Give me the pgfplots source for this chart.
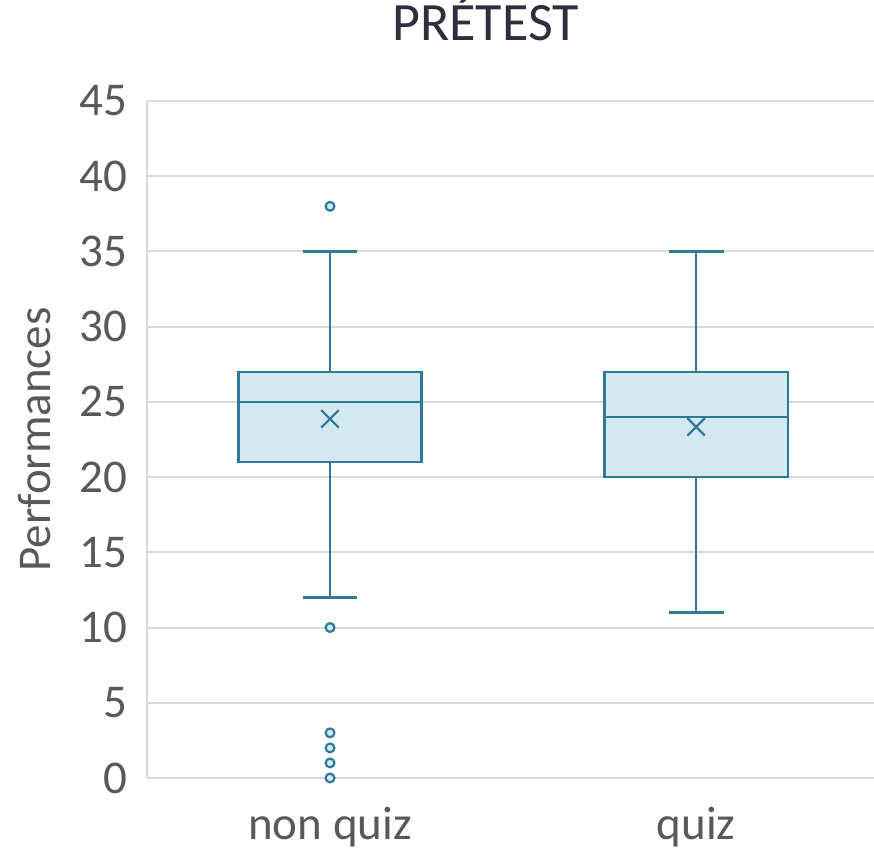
\documentclass[border=0pt]{standalone}
\usepackage{pgfplots}
\pgfplotsset{compat=1.18}
\usepgfplotslibrary{statistics}
\usepackage{fontspec}
\setmainfont{Carlito}
\definecolor{boxline}{HTML}{2F7A96}
\definecolor{boxfill}{HTML}{D3E8F1}
\definecolor{gridgray}{HTML}{D9D9D9}
\definecolor{ticktext}{HTML}{595959}
\definecolor{titletext}{HTML}{2E2E3E}
\begin{document}
\begin{tikzpicture}
\begin{axis}[
  name=ax,
  scale only axis,
  width=363.5pt, height=338.5pt,
  xmin=0.5, xmax=2.486,
  ymin=0, ymax=45,
  ytick={0,5,...,45},
  xtick={1,2},
  xticklabels={non quiz, quiz},
  ymajorgrids,
  grid style={gridgray, line width=1pt},
  axis lines*=left,
  axis line style={gridgray, line width=1pt, -},
  major tick length=0pt,
  /pgf/number format/assume math mode=true,
  tick label style={font=\fontsize{23.5}{28}\selectfont, text=ticktext},
  yticklabel style={inner sep=0pt, xshift=-9.5pt},
  xticklabel style={anchor=base, inner sep=0pt, yshift=-31pt},
  ylabel={Performances},
  ylabel style={at={(axis description cs:-0.1540,0.5)}, anchor=center, rotate=0, font=\fontsize{23.5}{28}\selectfont, text=ticktext},
  title={PRÉTEST},
  title style={at={(axis description cs:0.4656,1)}, anchor=base, yshift=24pt, font=\fontsize{27}{32}\selectfont, text=titletext},
  boxplot/draw direction=y,
  clip=false,
]
\addplot[boxline, fill=boxfill, line width=1.1pt,
  boxplot prepared={draw position=1, lower whisker=12, lower quartile=21, median=25, upper quartile=27, upper whisker=35, box extend=0.5, whisker extend=0.15}]
  coordinates {};
\addplot[boxline, fill=boxfill, line width=1.1pt,
  boxplot prepared={draw position=2, lower whisker=11, lower quartile=20, median=24, upper quartile=27, upper whisker=35, box extend=0.5, whisker extend=0.15}]
  coordinates {};
% means
\addplot[only marks, mark=x, mark size=6.2pt, boxline, mark options={line width=1.1pt}]
  coordinates {(1,23.87) (2,23.34)};
% outliers
\addplot[only marks, mark=*, mark size=2.2pt, boxline, mark options={fill=boxfill, line width=1.1pt}]
  coordinates {(1,38) (1,10) (1,3) (1,2) (1,1) (1,0)};
\end{axis}
\pgfresetboundingbox
\path ([xshift=-73.5pt,yshift=-38.5pt]ax.south west) rectangle ([yshift=50.5pt]ax.north east);
\end{tikzpicture}
\end{document}
